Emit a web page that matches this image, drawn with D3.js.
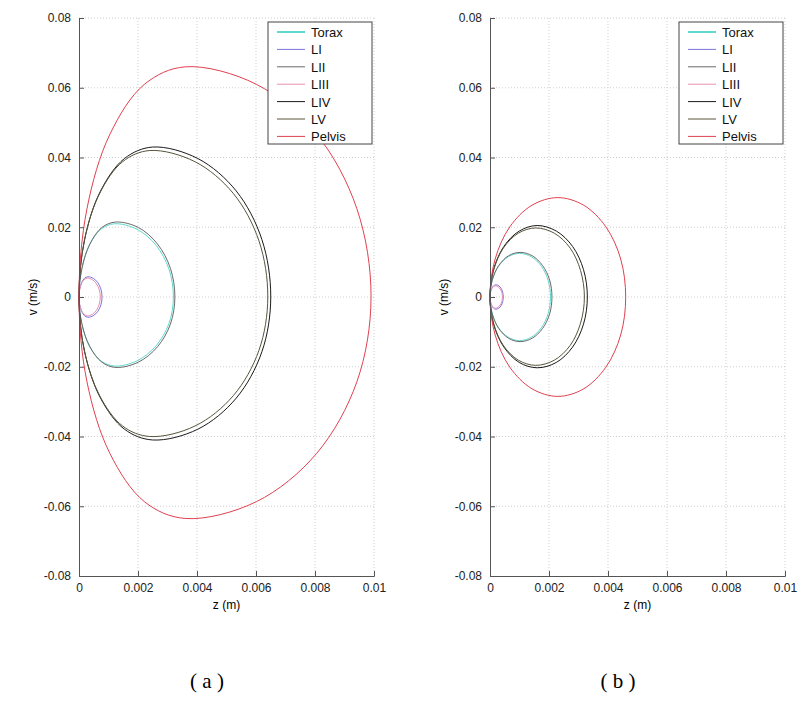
<!DOCTYPE html>
<html>
<head>
<meta charset="utf-8">
<script src="https://cdn.jsdelivr.net/npm/d3@7"></script>
<style>
  body { margin: 0; background: #fff; }
  svg { display: block; }
</style>
</head>
<body>
<div id="chart"></div>
<script>
// series names + colours (legend order)
var names = ["Torax", "LI", "LII", "LIII", "LIV", "LV", "Pelvis"];
var colors = ["#5fd8d0", "#7a74d8", "#6a6a6a", "#e890b0", "#1a1a1a", "#57553a", "#e0404f"];

var zTicks = [0, 0.002, 0.004, 0.006, 0.008, 0.01];
var vTicks = [-0.08, -0.06, -0.04, -0.02, 0, 0.02, 0.04, 0.06, 0.08];

// ---- panel (a) : [z, v] points, origin -> top -> right -> bottom ----
var toraxA = [[0,0],[0.00009,0.008],[0.00035,0.01485],[0.00074,0.0194],[0.0012,0.021],[0.00197,0.0194],[0.00261,0.01485],[0.00305,0.008],[0.0032,0],
  [0.00305,-0.00758],[0.00261,-0.014],[0.00197,-0.0183],[0.0012,-0.0198],[0.00074,-0.0183],[0.00035,-0.014],[0.00009,-0.00758]];
var l1A = [[0,0],[0.000023,0.00222],[0.000088,0.0041],[0.000185,0.00536],[0.0003,0.0058],[0.000484,0.00536],[0.00064,0.0041],[0.000744,0.00222],[0.00078,0],
  [0.000744,-0.00222],[0.00064,-0.0041],[0.000484,-0.00536],[0.0003,-0.0058],[0.000185,-0.00536],[0.000088,-0.0041],[0.000023,-0.00222]];
var l2A = [[0,0],[0.0001,0.0082],[0.00037,0.0152],[0.00077,0.0199],[0.00125,0.0215],[0.00202,0.0199],[0.00266,0.0152],[0.0031,0.0082],[0.00325,0],
  [0.0031,-0.00774],[0.00266,-0.01428],[0.00202,-0.01866],[0.00125,-0.0202],[0.00077,-0.01866],[0.00037,-0.01428],[0.0001,-0.00774]];
var l3A = [[0,0],[0.000021,0.00207],[0.000082,0.00382],[0.000173,0.00499],[0.00028,0.0054],[0.000449,0.00499],[0.000591,0.00382],[0.000687,0.00207],[0.00072,0],
  [0.000687,-0.00207],[0.000591,-0.00382],[0.000449,-0.00499],[0.00028,-0.0054],[0.000173,-0.00499],[0.000082,-0.00382],[0.000021,-0.00207]];
var l4A = [[0,0],[0.00019,0.01647],[0.00073,0.0304],[0.00154,0.0397],[0.0025,0.043],[0.00403,0.0397],[0.00533,0.0304],[0.0062,0.01647],[0.0065,0],
  [0.0062,-0.0157],[0.00533,-0.029],[0.00403,-0.0379],[0.0025,-0.041],[0.00154,-0.0379],[0.00073,-0.029],[0.00019,-0.0157]];
var l5A = [[0,0],[0.00018,0.0161],[0.0007,0.0297],[0.00148,0.0388],[0.0024,0.042],[0.00393,0.0388],[0.00523,0.0297],[0.0061,0.0161],[0.0064,0],
  [0.0061,-0.0153],[0.00523,-0.0283],[0.00393,-0.037],[0.0024,-0.040],[0.00148,-0.037],[0.0007,-0.0283],[0.00018,-0.0153]];
var pelvisA = [[0,0],[0.00027,0.0253],[0.00105,0.0467],[0.00222,0.061],[0.0036,0.066],[0.00601,0.061],[0.00805,0.0467],[0.00942,0.0253],[0.0099,0],
  [0.00942,-0.0243],[0.00805,-0.0449],[0.00601,-0.0587],[0.0036,-0.0635],[0.00222,-0.0587],[0.00105,-0.0449],[0.00027,-0.0243]];

// ---- panel (b) ----
var toraxB = [[0,0],[0.000076,0.00479],[0.00029,0.00884],[0.00062,0.01155],[0.001,0.0125],[0.0014,0.01155],[0.00174,0.00884],[0.00197,0.00479],[0.00205,0],
  [0.00197,-0.00479],[0.00174,-0.00884],[0.0014,-0.01155],[0.001,-0.0125],[0.00062,-0.01155],[0.00029,-0.00884],[0.000076,-0.00479]];
var l1B = [[0,0],[0.000015,0.00134],[0.000059,0.00247],[0.000123,0.00323],[0.0002,0.0035],[0.000296,0.00323],[0.000377,0.00247],[0.000431,0.00134],[0.00045,0],
  [0.000431,-0.00134],[0.000377,-0.00247],[0.000296,-0.00323],[0.0002,-0.0035],[0.000123,-0.00323],[0.000059,-0.00247],[0.000015,-0.00134]];
var l2B = [[0,0],[0.000078,0.0049],[0.0003,0.00905],[0.00063,0.01183],[0.00102,0.0128],[0.00143,0.01183],[0.00178,0.00905],[0.00202,0.0049],[0.0021,0],
  [0.00202,-0.0049],[0.00178,-0.00905],[0.00143,-0.01183],[0.00102,-0.0128],[0.00063,-0.01183],[0.0003,-0.00905],[0.000078,-0.0049]];
var l3B = [[0,0],[0.000014,0.00123],[0.000053,0.00226],[0.000111,0.00296],[0.00018,0.0032],[0.000272,0.00296],[0.00035,0.00226],[0.000402,0.00123],[0.00042,0],
  [0.000402,-0.00123],[0.00035,-0.00226],[0.000272,-0.00296],[0.00018,-0.0032],[0.000111,-0.00296],[0.000053,-0.00226],[0.000014,-0.00123]];
var l4B = [[0,0],[0.00012,0.00785],[0.00047,0.0145],[0.00099,0.0189],[0.0016,0.0205],[0.00225,0.0189],[0.0028,0.0145],[0.00317,0.00785],[0.0033,0],
  [0.00317,-0.00777],[0.0028,-0.01435],[0.00225,-0.01876],[0.0016,-0.0203],[0.00099,-0.01876],[0.00047,-0.01435],[0.00012,-0.00777]];
var l5B = [[0,0],[0.00012,0.00758],[0.00045,0.014],[0.00096,0.0183],[0.00155,0.0198],[0.00218,0.0183],[0.00272,0.014],[0.00307,0.00758],[0.0032,0],
  [0.00307,-0.0075],[0.00272,-0.01386],[0.00218,-0.01811],[0.00155,-0.0196],[0.00096,-0.01811],[0.00045,-0.01386],[0.00012,-0.0075]];
var pelvisB = [[0,0],[0.000175,0.0109],[0.00067,0.0201],[0.00142,0.0263],[0.0023,0.0285],[0.00318,0.0263],[0.00393,0.0201],[0.00443,0.0109],[0.0046,0],
  [0.00443,-0.0109],[0.00393,-0.0201],[0.00318,-0.0263],[0.0023,-0.0285],[0.00142,-0.0263],[0.00067,-0.0201],[0.000175,-0.0109]];

var seriesA = [toraxA, l1A, l2A, l3A, l4A, l5A, pelvisA];
var seriesB = [toraxB, l1B, l2B, l3B, l4B, l5B, pelvisB];

var W = 808, H = 715;
var svg = d3.select("#chart").append("svg")
    .attr("width", W)
    .attr("height", H);

var draw_panel = function(left, data, caption) {
    var top = 18, pw = 295, ph = 558;
    var x = d3.scaleLinear().domain([0, 0.01]).range([left, left + pw]);
    var y = d3.scaleLinear().domain([-0.08, 0.08]).range([top + ph, top]);
    var g = svg.append("g");

    // dotted grid
    g.selectAll(".gx").data(zTicks.slice(1)).enter().append("line")
        .attr("x1", function(d) { return x(d); }).attr("x2", function(d) { return x(d); })
        .attr("y1", top).attr("y2", top + ph)
        .attr("stroke", "#cfcfcf").attr("stroke-width", 1).attr("stroke-dasharray", "1,2");
    g.selectAll(".gy").data(vTicks.slice(1)).enter().append("line")
        .attr("x1", left).attr("x2", left + pw)
        .attr("y1", function(d) { return y(d); }).attr("y2", function(d) { return y(d); })
        .attr("stroke", "#cfcfcf").attr("stroke-width", 1).attr("stroke-dasharray", "1,2");

    // curves
    var line = d3.line()
        .x(function(d) { return x(d[0]); })
        .y(function(d) { return y(d[1]); })
        .curve(d3.curveCatmullRomClosed.alpha(0.5));
    data.forEach(function(pts, i) {
        g.append("path")
            .attr("d", line(pts))
            .attr("fill", "none")
            .attr("stroke", colors[i])
            .attr("stroke-width", 1);
    });

    // axes
    var xAxis = d3.axisBottom(x).tickValues(zTicks).tickSize(-5).tickPadding(7)
        .tickFormat(function(d) { return d === 0 ? "0" : (+d.toFixed(3)).toString(); });
    var yAxis = d3.axisLeft(y).tickValues(vTicks).tickSize(-5).tickPadding(8)
        .tickFormat(function(d) { return d === 0 ? "0" : (+d.toFixed(2)).toString(); });
    var ax = g.append("g").attr("transform", "translate(0," + (top + ph) + ")").call(xAxis);
    var ay = g.append("g").attr("transform", "translate(" + left + ",0)").call(yAxis);
    [ax, ay].forEach(function(a) {
        a.selectAll("path, line").attr("stroke", "#555");
        a.selectAll("text").attr("font-family", "Liberation Sans, Arial, sans-serif")
            .attr("font-size", 12).attr("fill", "#222");
    });

    g.append("text")
        .attr("x", left + pw / 2).attr("y", top + ph + 33)
        .attr("text-anchor", "middle")
        .attr("font-family", "Liberation Sans, Arial, sans-serif").attr("font-size", 12)
        .text("z (m)");
    g.append("text")
        .attr("transform", "translate(" + (left - 42) + "," + (top + ph / 2) + ") rotate(-90)")
        .attr("text-anchor", "middle")
        .attr("font-family", "Liberation Sans, Arial, sans-serif").attr("font-size", 12)
        .text("v (m/s)");

    // legend
    var lx = left + 189, ly = 22, lw = 104, lh = 122;
    var leg = g.append("g");
    leg.append("rect").attr("x", lx).attr("y", ly).attr("width", lw).attr("height", lh)
        .attr("fill", "#fff").attr("stroke", "#444").attr("stroke-width", 1);
    names.forEach(function(n, i) {
        var yy = ly + 10 + i * 17.4;
        leg.append("line").attr("x1", lx + 9).attr("x2", lx + 37)
            .attr("y1", yy).attr("y2", yy)
            .attr("stroke", colors[i]).attr("stroke-width", i === 0 ? 2 : 1);
        leg.append("text").attr("x", lx + 43).attr("y", yy + 5)
            .attr("font-family", "Liberation Sans, Arial, sans-serif").attr("font-size", 13)
            .attr("fill", "#111")
            .text(n);
    });

    // caption
    svg.append("text")
        .attr("x", left + 128).attr("y", 688)
        .attr("text-anchor", "middle")
        .attr("font-family", "Liberation Serif, Times New Roman, serif").attr("font-size", 21)
        .text(caption);
};

draw_panel(79, seriesA, "( a )");
draw_panel(490, seriesB, "( b )");
</script>
</body>
</html>
